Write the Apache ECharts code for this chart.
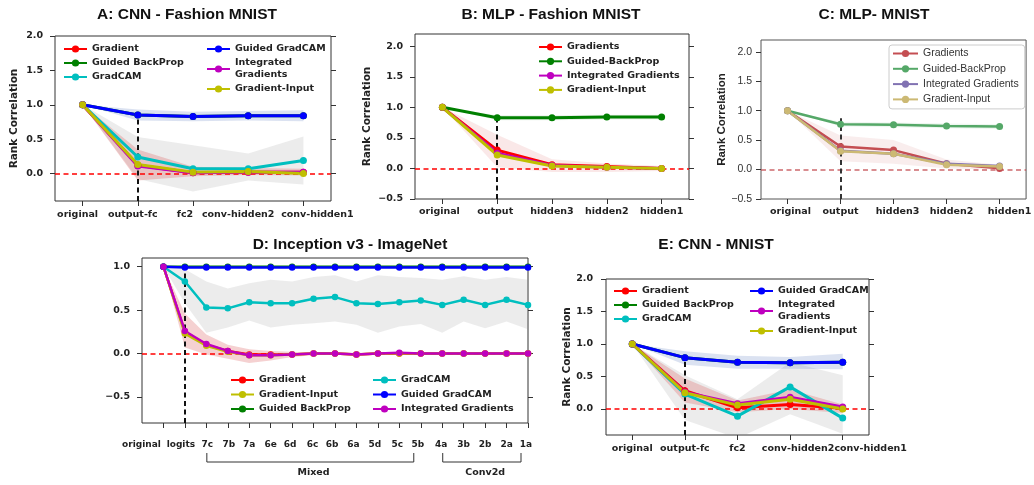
<!DOCTYPE html>
<html>
<head>
<meta charset="utf-8">
<script src="https://cdn.jsdelivr.net/npm/echarts/dist/echarts.min.js"></script>
<style>
html,body{margin:0;padding:0;background:#fff;width:1034px;height:485px;overflow:hidden}
.p{position:absolute;left:0;top:0;width:1034px;height:485px}
</style>
</head>
<body>
<div id="pa" class="p"></div>
<div id="pb" class="p"></div>
<div id="pc" class="p"></div>
<div id="pd" class="p"></div>
<div id="pe" class="p"></div>
<script>
// ---------------- DATA ----------------
// Panel A: CNN - Fashion MNIST
const catsA = ['original', 'output-fc', 'fc2', 'conv-hidden2', 'conv-hidden1'];
const aGradient       = [1.0, 0.12, 0.01, 0.02, 0.02];
const aGuidedBackProp = [1.0, 0.85, 0.83, 0.84, 0.84];
const aGradCAM        = [1.0, 0.24, 0.07, 0.07, 0.19];
const aGuidedGradCAM  = [1.0, 0.85, 0.83, 0.84, 0.84];
const aIntegrated     = [1.0, 0.11, 0.01, 0.02, 0.02];
const aGradInput      = [1.0, 0.13, 0.02, 0.03, 0.00];
const aCamLow  = [1.0, -0.08, -0.26, -0.10, -0.16];
const aCamHigh = [1.0, 0.53, 0.41, 0.29, 0.54];
const aGradLow  = [1.0, -0.10, -0.04, -0.02, -0.03];
const aGradHigh = [1.0, 0.35, 0.10, 0.08, 0.07];
const aGgcLow  = [1.0, 0.77, 0.76, 0.77, 0.76];
const aGgcHigh = [1.0, 0.93, 0.90, 0.91, 0.92];

// Panel B: MLP - Fashion MNIST
const catsB = ['original', 'output', 'hidden3', 'hidden2', 'hidden1'];
const bGradients      = [1.0, 0.30, 0.06, 0.03, 0.00];
const bGuidedBackProp = [1.0, 0.83, 0.83, 0.84, 0.84];
const bIntegrated     = [1.0, 0.25, 0.05, 0.02, 0.00];
const bGradInput      = [1.0, 0.22, 0.04, 0.02, 0.00];
const bGradLow  = [1.0, 0.02, -0.06, -0.06, -0.04];
const bGradHigh = [1.0, 0.55, 0.15, 0.08, 0.04];
const bGbpLow  = [1.0, 0.79, 0.79, 0.80, 0.80];
const bGbpHigh = [1.0, 0.87, 0.87, 0.88, 0.88];

// Panel C: MLP - MNIST
const catsC = ['original', 'output', 'hidden3', 'hidden2', 'hidden1'];
const cGradients      = [1.0, 0.39, 0.33, 0.10, 0.02];
const cGuidedBackProp = [1.0, 0.77, 0.76, 0.74, 0.73];
const cIntegrated     = [1.0, 0.32, 0.27, 0.10, 0.06];
const cGradInput      = [1.0, 0.31, 0.27, 0.08, 0.05];
const cGradLow  = [1.0, 0.14, 0.10, 0.02, 0.00];
const cGradHigh = [1.0, 0.58, 0.50, 0.17, 0.08];
const cGbpLow  = [1.0, 0.73, 0.72, 0.70, 0.69];
const cGbpHigh = [1.0, 0.81, 0.80, 0.78, 0.77];

// Panel D: Inception v3 - ImageNet
const dLabels = ['original', 'logits', '7c', '7b', '7a', '6e', '6d', '6c', '6b', '6a', '5d', '5c', '5b', '4a', '3b', '2b', '2a', '1a'];
const dGradient       = [1.0, 0.25, 0.10, 0.03, -0.01, -0.01, -0.01, 0.00, 0.00, -0.01, 0.00, 0.00, 0.00, 0.00, 0.00, 0.00, 0.00, 0.00];
const dGradInput      = [1.0, 0.23, 0.09, 0.02, -0.02, -0.02, -0.01, 0.00, 0.00, -0.01, 0.00, 0.00, 0.00, 0.00, 0.00, 0.00, 0.00, 0.00];
const dGuidedBackProp = [1.0, 1.00, 1.00, 1.00, 1.00, 1.00, 1.00, 1.00, 1.00, 1.00, 1.00, 1.00, 1.00, 1.00, 1.00, 1.00, 1.00, 1.00];
const dGradCAM        = [1.0, 0.83, 0.53, 0.52, 0.59, 0.58, 0.58, 0.63, 0.65, 0.58, 0.57, 0.59, 0.61, 0.56, 0.62, 0.56, 0.62, 0.56];
const dGuidedGradCAM  = [1.0, 0.99, 0.99, 0.99, 0.99, 0.99, 0.99, 0.99, 0.99, 0.99, 0.99, 0.99, 0.99, 0.99, 0.99, 0.99, 0.99, 0.99];
const dIntegrated     = [1.0, 0.26, 0.11, 0.03, -0.02, -0.02, -0.01, 0.00, 0.00, -0.01, 0.00, 0.01, 0.00, 0.00, 0.00, 0.00, 0.00, 0.00];
const dCamLow  = [1.0, 0.58, 0.24, 0.30, 0.38, 0.30, 0.33, 0.35, 0.37, 0.33, 0.24, 0.31, 0.34, 0.24, 0.37, 0.29, 0.37, 0.28];
const dCamHigh = [1.0, 0.97, 0.83, 0.75, 0.81, 0.85, 0.83, 0.88, 0.90, 0.83, 0.90, 0.88, 0.87, 0.85, 0.89, 0.85, 0.88, 0.85];
const dGradLow  = [1.0, 0.07, -0.01, -0.06, -0.11, -0.08, -0.04, -0.02, -0.01, -0.02, -0.01, -0.01, -0.01, -0.01, -0.01, -0.01, -0.01, -0.01];
const dGradHigh = [1.0, 0.46, 0.22, 0.10, 0.05, 0.03, 0.02, 0.01, 0.01, 0.01, 0.01, 0.02, 0.01, 0.01, 0.01, 0.01, 0.01, 0.01];
const dGroups = [{ name: 'Mixed', from: 2, to: 12 }, { name: 'Conv2d', from: 13, to: 17 }];

// Panel E: CNN - MNIST
const catsE = ['original', 'output-fc', 'fc2', 'conv-hidden2', 'conv-hidden1'];
const eGradient       = [1.0, 0.28, 0.02, 0.07, 0.01];
const eGuidedBackProp = [1.0, 0.79, 0.72, 0.71, 0.72];
const eGradCAM        = [1.0, 0.23, -0.11, 0.34, -0.14];
const eGuidedGradCAM  = [1.0, 0.79, 0.72, 0.71, 0.72];
const eIntegrated     = [1.0, 0.26, 0.08, 0.18, 0.03];
const eGradInput      = [1.0, 0.25, 0.06, 0.15, 0.00];
const eGgcLow  = [1.0, 0.68, 0.62, 0.62, 0.61];
const eGgcHigh = [1.0, 0.89, 0.82, 0.80, 0.85];
const eGradLow  = [1.0, 0.10, -0.05, 0.00, -0.06];
const eGradHigh = [1.0, 0.47, 0.13, 0.30, 0.07];
const eCamLow  = [1.0, -0.17, -0.45, -0.08, -0.38];
const eCamHigh = [1.0, 0.52, 0.15, 0.72, 0.52];

const yTicksA = [0.0, 0.5, 1.0, 1.5, 2.0];
const yTicksB = [-0.5, 0.0, 0.5, 1.0, 1.5, 2.0];
const yTicksD = [-0.5, 0.0, 0.5, 1.0];

// ---------------- STYLE ----------------
const RED = '#ff0000', GREEN = '#008000', CYAN = '#00bfbf', BLUE = '#0000ff', MAG = '#bf00bf', OLIVE = '#bfbf00';
const S_RED = '#c44e52', S_GREEN = '#55a868', S_PURPLE = '#8172b2', S_GOLD = '#ccb974';
const PINK_BAND = 'rgba(220,90,90,0.28)', GRAY_BAND = 'rgba(150,150,150,0.18)', BLUE_BAND = 'rgba(110,140,200,0.25)', GREEN_BAND = 'rgba(120,170,120,0.15)';
const TXT = { fontFamily: 'DejaVu Sans', fontWeight: 'bold', fontSize: 9.5, color: '#222' };
// horizontal nudges (px) of the x tick labels, as in the reference layout
const shiftA = [-5, -5, -8, -10, 14];
const shiftB = [-3, -2, 0, 0, 0];
const shiftC = [3, 0, 4, 5, 10];
const shiftD = [-22, -4, 1, 1, 0, 0, -2, -1, -3, -3, -3, -2, -3, -1, 0, 0, 0, -2];
const shiftE = [0, 0, 0, 8, 28];

const fmtY = v => (Math.round(v * 10) / 10).toFixed(1).replace('-', '\u2212');

function shiftedLabels(labels, shifts, style) {
  const rich = {};
  labels.forEach((_, i) => {
    const s = shifts[i] || 0;
    rich['s' + i] = Object.assign({ padding: [0, s < 0 ? -2 * s : 0, 0, s > 0 ? 2 * s : 0] }, style);
  });
  return {
    rich: rich,
    formatter: (v, idx) => {
      const i = typeof v === 'number' ? v : labels.indexOf(v);
      return (i >= 0 && i < labels.length) ? '{s' + i + '|' + labels[i] + '}' : '';
    }
  };
}

function mkLine(name, data, color, w, sz) {
  return {
    type: 'line', name: name, data: data, color: color, z: 5,
    symbol: 'circle', symbolSize: sz || 7, showSymbol: true,
    lineStyle: { width: w || 3, color: color }, itemStyle: { color: color },
    emphasis: { disabled: true }
  };
}
// confidence band: one polygon drawn through the axes' own scales
function mkBand(name, low, high, color, xs) {
  const data = low.map((v, i) => [xs ? xs[i] : i, v, high[i]]);
  return {
    type: 'custom', name: name, silent: true, z: 1, data: data,
    encode: { x: 0, y: [1, 2] },
    renderItem: function (params, api) {
      if (params.dataIndex !== 0) return null;
      const top = [], bot = [];
      for (let i = 0; i < data.length; i++) {
        top.push(api.coord([data[i][0], data[i][2]]));
        bot.push(api.coord([data[i][0], data[i][1]]));
      }
      const cs = params.coordSys;
      return {
        type: 'polygon', shape: { points: top.concat(bot.reverse()) }, style: { fill: color },
        clipPath: { type: 'rect', shape: { x: cs.x, y: cs.y, width: cs.width, height: cs.height } }
      };
    }
  };
}
function mkGuides(data, xCat, yMin, yTop, zeroColor, dashColor) {
  return {
    type: 'line', name: 'guides', data: data, symbol: 'none', lineStyle: { opacity: 0 }, silent: true, z: 3,
    markLine: {
      silent: true, symbol: 'none', label: { show: false }, animation: false,
      data: [
        { yAxis: 0, lineStyle: { color: zeroColor, type: [5, 3.5], width: 1.5 } },
        [{ coord: [xCat, yMin], lineStyle: { color: dashColor, type: [5, 3.5], width: 2 } }, { coord: [xCat, yTop] }]
      ]
    }
  };
}
function mkGrid(left, top, width, height, border) {
  return { left: left, top: top, width: width, height: height, show: true, borderColor: border || '#333', borderWidth: 1, backgroundColor: 'transparent' };
}
function mkCatX(cats, margin, shifts, labelStyle) {
  const st = labelStyle || TXT;
  return {
    type: 'category', data: cats, boundaryGap: true,
    axisLine: { show: false, onZero: false }, splitLine: { show: false },
    axisTick: { show: true, alignWithLabel: true, length: 5, lineStyle: { color: '#333' } },
    axisLabel: Object.assign({ margin: margin, interval: 0 }, st, shiftedLabels(cats, shifts, st))
  };
}
function mkY(min, max, ticks, margin, labelStyle, name, nameGap, nameStyle, rightAxis) {
  const axes = [{
    type: 'value', min: min, max: max, position: 'left',
    axisLine: { show: false, onZero: false }, splitLine: { show: false },
    axisTick: { show: true, length: 5, customValues: ticks, lineStyle: { color: '#333' } },
    axisLabel: Object.assign({ margin: margin, customValues: ticks, formatter: fmtY }, labelStyle || TXT),
    name: name || '', nameLocation: 'middle', nameRotate: 90, nameGap: nameGap || 30,
    nameTextStyle: nameStyle || { fontFamily: 'DejaVu Sans', fontWeight: 'bold', fontSize: 10.5, color: '#222' }
  }];
  if (rightAxis) {
    axes.push({
      type: 'value', min: min, max: max, position: 'right',
      axisLine: { show: false, onZero: false }, splitLine: { show: false },
      axisTick: { show: true, length: 5, customValues: ticks, lineStyle: { color: '#333' } },
      axisLabel: { show: false }
    });
  }
  return axes;
}
function mkLegend(names, left, top, gap, extra) {
  return Object.assign({
    data: names, left: left, top: top, orient: 'vertical', padding: 0, itemGap: gap,
    itemWidth: 23, itemHeight: 9, selectedMode: false,
    textStyle: Object.assign({ lineHeight: 12 }, TXT)
  }, extra || {});
}
function mkTitle(id, text, x, y) {
  return {
    type: 'text', id: id, x: x, y: y, silent: true,
    style: { text: text, font: 'bold 15.5px "Liberation Sans", Arial, sans-serif', fill: '#111',
      textAlign: 'center', textVerticalAlign: 'middle', align: 'center', verticalAlign: 'middle' }
  };
}

// ---------------- PANEL A ----------------
const chartA = echarts.init(document.getElementById('pa'));
chartA.setOption({
  animation: false,
  grid: mkGrid(55, 36, 276, 165),
  xAxis: mkCatX(catsA, 9, shiftA),
  yAxis: mkY(-0.4, 2.0, yTicksA, 12, TXT, 'Rank Correlation', 35, null, true),
  legend: [
    mkLegend(['Gradient', 'Guided BackProp', 'GradCAM'], 63, 43, 2),
    mkLegend(['Guided GradCAM', 'Integrated\nGradients', 'Gradient-Input'], 206, 43, 2)
  ],
  graphic: [mkTitle('ta', 'A: CNN - Fashion MNIST', 187, 15)],
  series: [
    mkBand('aCamBand', aCamLow, aCamHigh, GRAY_BAND),
    mkBand('aGradBand', aGradLow, aGradHigh, PINK_BAND),
    mkBand('aGgcBand', aGgcLow, aGgcHigh, BLUE_BAND),
    mkGuides(aGradient, catsA[1], -0.4, aGuidedGradCAM[1], RED, '#111'),
    mkLine('Gradient', aGradient, RED),
    mkLine('Guided BackProp', aGuidedBackProp, GREEN),
    mkLine('GradCAM', aGradCAM, CYAN),
    mkLine('Guided GradCAM', aGuidedGradCAM, BLUE),
    mkLine('Integrated\nGradients', aIntegrated, MAG),
    mkLine('Gradient-Input', aGradInput, OLIVE)
  ]
});

// ---------------- PANEL B ----------------
const chartB = echarts.init(document.getElementById('pb'));
chartB.setOption({
  animation: false,
  grid: mkGrid(415, 34, 274, 165),
  xAxis: mkCatX(catsB, 8, shiftB),
  yAxis: mkY(-0.5, 2.2, yTicksB, 12, TXT, 'Rank Correlation', 42, null, true),
  legend: [
    mkLegend(['Gradients', 'Guided-BackProp', 'Integrated Gradients', 'Gradient-Input'], 538, 41, 2.3)
  ],
  graphic: [mkTitle('tb', 'B: MLP - Fashion MNIST', 551, 15)],
  series: [
    mkBand('bGradBand', bGradLow, bGradHigh, 'rgba(220,90,90,0.14)'),
    mkBand('bGbpBand', bGbpLow, bGbpHigh, GREEN_BAND),
    mkGuides(bGradients, catsB[1], -0.5, bGuidedBackProp[1], RED, '#111'),
    mkLine('Gradients', bGradients, RED),
    mkLine('Guided-BackProp', bGuidedBackProp, GREEN),
    mkLine('Integrated Gradients', bIntegrated, MAG),
    mkLine('Gradient-Input', bGradInput, OLIVE)
  ]
});

// ---------------- PANEL C ----------------
const C_TICK = { fontFamily: 'Liberation Sans', fontWeight: 'normal', fontSize: 10.5, color: '#333' };
const chartC = echarts.init(document.getElementById('pc'));
chartC.setOption({
  animation: false,
  grid: mkGrid(761, 40, 268, 159, '#555'),
  xAxis: mkCatX(catsC, 8, shiftC),
  yAxis: mkY(-0.5, 2.2, yTicksB, 9, C_TICK, 'Rank Correlation', 31,
    { fontFamily: 'Liberation Sans', fontWeight: 'bold', fontSize: 11.5, color: '#222' }, false),
  legend: [
    mkLegend(['Gradients', 'Guided-BackProp', 'Integrated Gradients', 'Gradient-Input'], 889, 45, 2.3, {
      padding: [2, 6, 3, 3], itemWidth: 25, borderColor: '#ccc', borderWidth: 1, borderRadius: 3,
      backgroundColor: 'rgba(255,255,255,0.85)',
      textStyle: { fontFamily: 'Liberation Sans', fontWeight: 'normal', fontSize: 10.5, color: '#333', lineHeight: 13 }
    })
  ],
  graphic: [mkTitle('tc', 'C: MLP- MNIST', 874, 15)],
  series: [
    mkBand('cGradBand', cGradLow, cGradHigh, 'rgba(196,78,82,0.1)'),
    mkBand('cGbpBand', cGbpLow, cGbpHigh, 'rgba(85,168,104,0.1)'),
    mkGuides(cGradients, catsC[1], -0.5, 0.87, 'rgba(196,78,82,0.85)', '#333'),
    mkLine('Gradients', cGradients, S_RED, 2.5, 7),
    mkLine('Guided-BackProp', cGuidedBackProp, S_GREEN, 2.5, 7),
    mkLine('Integrated Gradients', cIntegrated, S_PURPLE, 2.5, 7),
    mkLine('Gradient-Input', cGradInput, S_GOLD, 2.5, 7)
  ]
});

// ---------------- PANEL D ----------------
const dIdx = dLabels.map((_, i) => i);
const pairs = arr => arr.map((v, i) => [dIdx[i], v]);
const D_TXT = Object.assign({}, TXT, { fontSize: 9 });
const chartD = echarts.init(document.getElementById('pd'));
chartD.setOption({
  animation: false,
  grid: mkGrid(142, 258, 386, 165),
  xAxis: {
    type: 'value', min: -1, max: dLabels.length - 1,
    axisLine: { show: false, onZero: false }, splitLine: { show: false },
    axisTick: { show: true, length: 5, customValues: dIdx, lineStyle: { color: '#333' } },
    axisLabel: Object.assign({ margin: 17, customValues: dIdx }, D_TXT, shiftedLabels(dLabels, shiftD, D_TXT))
  },
  yAxis: mkY(-0.8, 1.1, yTicksD, 12, TXT, '', 30, null, true),
  legend: [
    mkLegend(['Gradient', 'Gradient-Input', 'Guided BackProp'], 230, 374, 2.5),
    mkLegend(['GradCAM', 'Guided GradCAM', 'Integrated Gradients'], 372, 374, 2.5)
  ],
  graphic: [mkTitle('td', 'D: Inception v3 - ImageNet', 350, 245)],
  series: [
    mkBand('dCamBand', dCamLow, dCamHigh, GRAY_BAND, dIdx),
    mkBand('dGradBand', dGradLow, dGradHigh, PINK_BAND, dIdx),
    mkGuides(pairs(dGradient), 1, -0.8, dGuidedGradCAM[0], RED, '#111'),
    mkLine('Gradient', pairs(dGradient), RED, 2.5, 6.5),
    mkLine('Gradient-Input', pairs(dGradInput), OLIVE, 2.5, 6.5),
    mkLine('Guided BackProp', pairs(dGuidedBackProp), GREEN, 2.5, 6.5),
    mkLine('GradCAM', pairs(dGradCAM), CYAN, 2.5, 6.5),
    mkLine('Guided GradCAM', pairs(dGuidedGradCAM), BLUE, 2.5, 6.5),
    mkLine('Integrated Gradients', pairs(dIntegrated), MAG, 2.5, 6.5)
  ]
});
// group brackets under the D axis
(function () {
  const gr = [];
  const yTop = 453, yBar = 462;
  dGroups.forEach((g, k) => {
    const x1 = chartD.convertToPixel({ xAxisIndex: 0 }, g.from) + 0.5;
    const x2 = chartD.convertToPixel({ xAxisIndex: 0 }, g.to) - 7;
    const xm = chartD.convertToPixel({ xAxisIndex: 0 }, (g.from + g.to) / 2);
    gr.push({ type: 'polyline', id: 'br' + k, silent: true,
      shape: { points: [[x1, yTop], [x1, yBar], [x2, yBar], [x2, yTop]] },
      style: { stroke: '#333', lineWidth: 1, fill: null } });
    gr.push({ type: 'text', id: 'bt' + k, x: xm, y: 473, silent: true,
      style: { text: g.name, font: 'bold 9.5px "DejaVu Sans"', fill: '#222',
        textAlign: 'center', textVerticalAlign: 'middle', align: 'center', verticalAlign: 'middle' } });
  });
  chartD.setOption({ graphic: gr });
})();

// ---------------- PANEL E ----------------
const chartE = echarts.init(document.getElementById('pe'));
chartE.setOption({
  animation: false,
  grid: mkGrid(606, 279, 263, 156),
  xAxis: mkCatX(catsE, 9, shiftE),
  yAxis: mkY(-0.4, 2.0, yTicksA, 13, TXT, 'Rank Correlation', 33, null, true),
  legend: [
    mkLegend(['Gradient', 'Guided BackProp', 'GradCAM'], 613, 285, 2),
    mkLegend(['Guided GradCAM', 'Integrated\nGradients', 'Gradient-Input'], 749, 285, 2)
  ],
  graphic: [mkTitle('te', 'E: CNN - MNIST', 716, 245)],
  series: [
    mkBand('eCamBand', eCamLow, eCamHigh, GRAY_BAND),
    mkBand('eGgcBand', eGgcLow, eGgcHigh, BLUE_BAND),
    mkBand('eGradBand', eGradLow, eGradHigh, PINK_BAND),
    mkGuides(eGradient, catsE[1], -0.4, eGuidedGradCAM[1], RED, '#111'),
    mkLine('Gradient', eGradient, RED),
    mkLine('Guided BackProp', eGuidedBackProp, GREEN),
    mkLine('GradCAM', eGradCAM, CYAN),
    mkLine('Guided GradCAM', eGuidedGradCAM, BLUE),
    mkLine('Integrated\nGradients', eIntegrated, MAG),
    mkLine('Gradient-Input', eGradInput, OLIVE)
  ]
});
</script>
</body>
</html>
